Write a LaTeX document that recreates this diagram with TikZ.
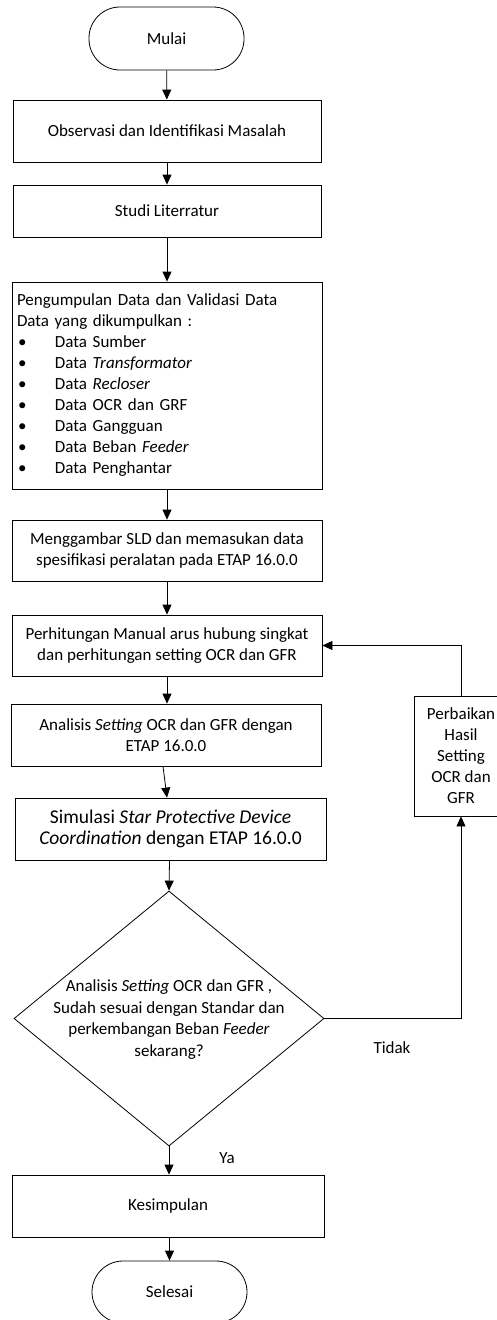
\documentclass[tikz,border=0pt]{standalone}
\usepackage{fontspec}
\setmainfont{Carlito}
\usetikzlibrary{shapes.geometric,arrows.meta}
\tikzset{
  base/.style={draw, line width=0.8pt, inner sep=0pt, align=center, font=\fontsize{17}{21}\selectfont},
  proc/.style={base, rectangle, minimum width=310pt, minimum height=62pt},
  term/.style={base, rectangle, rounded corners=31pt, minimum width=155pt, minimum height=63pt},
  dec/.style={base, diamond, minimum width=310pt, minimum height=255pt},
  lbl/.style={inner sep=0pt, align=center, font=\fontsize{17}{21.7}\selectfont},
  arr/.style={-{Triangle[length=10pt,width=9pt]}, line width=0.8pt}
}
\begin{document}
\begin{tikzpicture}[x=1pt,y=-1pt]
\useasboundingbox (0,0) rectangle (497,1320);
\node[term] (mulai) at (166.5,38.5) {Mulai};
\node[proc, minimum width=308pt] (obs) at (167,131) {Observasi dan Identifikasi Masalah};
\node[proc, minimum width=308pt, minimum height=52pt] (studi) at (167,211) {Studi Literratur};
\node[proc, minimum height=207pt, text width=300pt, align=left, inner xsep=5pt] (peng) at (167,385.5) {Pengumpulan Data dan Validasi Data\\
Data yang dikumpulkan :\\
\hspace*{1pt}\makebox[37pt][l]{\textbullet}Data Sumber\\
\hspace*{1pt}\makebox[37pt][l]{\textbullet}Data \textit{Transformator}\\
\hspace*{1pt}\makebox[37pt][l]{\textbullet}Data \textit{Recloser}\\
\hspace*{1pt}\makebox[37pt][l]{\textbullet}Data OCR dan GRF\\
\hspace*{1pt}\makebox[37pt][l]{\textbullet}Data Gangguan\\
\hspace*{1pt}\makebox[37pt][l]{\textbullet}Data Beban \textit{Feeder}\\
\hspace*{1pt}\makebox[37pt][l]{\textbullet}Data Penghantar};
\node[proc, minimum height=61pt] (meng) at (167,550.5) {Menggambar SLD dan memasukan data\\spesifikasi peralatan pada ETAP 16.0.0};
\node[proc, minimum height=61pt] (perh) at (167,645.5) {Perhitungan Manual arus hubung singkat\\dan perhitungan setting OCR dan GFR};
\node[proc] (anal) at (166,735) {Analisis \textit{Setting} OCR dan GFR dengan\\ETAP 16.0.0};
\node[proc, minimum width=311pt, font=\fontsize{19.5}{21.7}\selectfont] (sim) at (170.5,829) {Simulasi \textit{Star Protective Device}\\\textit{Coordination} dengan ETAP 16.0.0};
\node[dec] (dia) at (169,1018.5) {};
\node[lbl] (diat) at (169,1019.5) {Analisis \textit{Setting} OCR dan GFR ,\\Sudah sesuai dengan Standar dan\\perkembangan Beban \textit{Feeder}\\sekarang?};
\node[proc, minimum width=312pt] (kes) at (168,1206) {Kesimpulan};
\node[term, minimum height=62pt] (sel) at (169.5,1292) {Selesai};
\node[proc, minimum width=94pt, minimum height=120pt] (perb) at (461,756) {Perbaikan\\Hasil\\Setting\\OCR dan\\GFR};
\node[lbl] (tidak) at (392,1048) {Tidak};
\node[lbl] (ya) at (227,1158) {Ya};
\draw[arr] (mulai) -- (obs);
\draw[arr] (obs) -- (studi);
\draw[arr] (studi) -- (peng);
\draw[arr] (peng) -- (meng);
\draw[arr] (meng) -- (perh);
\draw[arr] (perh.south -| obs) -- (anal.north -| obs);
\draw[arr] ([xshift=-3pt]anal.south) -- ([xshift=-3.5pt]sim.north);
\draw[arr] ([xshift=-1pt]sim.south) -- (dia.north);
\draw[arr] (dia.south) -- (kes.north -| dia.south);
\draw[arr] (kes.south -| sel) -- (sel.north);
\draw[arr] (dia.east) -| (perb.south);
\draw[arr] (perb.north) |- (perh.east);
\end{tikzpicture}
\end{document}
